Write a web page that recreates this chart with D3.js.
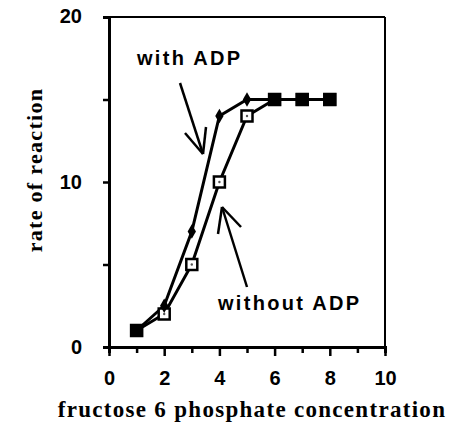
<!DOCTYPE html>
<html><head><meta charset="utf-8">
<script src="https://cdn.jsdelivr.net/npm/d3@7"></script>
<style>body{margin:0;background:#fff}svg{display:block}</style>
</head><body>
<script>
const concentration = [1, 2, 3, 4, 5, 6, 7, 8];
const withADP = [1, 2.5, 7, 14, 15, 15, 15, 15];
const withoutADP = [1, 2, 5, 10, 14, 15, 15, 15];
const xTickLabels = [0, 2, 4, 6, 8, 10];
const yTickLabels = [0, 10, 20];

const W = 452, H = 439;
const svg = d3.select("body").append("svg").attr("width", W).attr("height", H);
const x = d3.scaleLinear().domain([0, 10]).range([109, 385]);
const y = d3.scaleLinear().domain([0, 20]).range([347, 17]);

// frame top/right
svg.append("line").attr("x1", x(0)).attr("x2", x(10)).attr("y1", y(20)).attr("y2", y(20)).attr("stroke", "#000").attr("stroke-width", 2);
svg.append("line").attr("x1", x(10)).attr("x2", x(10)).attr("y1", y(20)).attr("y2", y(0)).attr("stroke", "#000").attr("stroke-width", 2);

// y axis
const yAxis = svg.append("g").attr("transform", `translate(${x(0)},0)`)
  .call(d3.axisLeft(y).tickValues(d3.range(0, 21, 5)).tickSize(6).tickFormat(d => yTickLabels.includes(d) ? d : ""));
// x axis
const xAxis = svg.append("g").attr("transform", `translate(0,${y(0)})`)
  .call(d3.axisBottom(x).tickValues(d3.range(0, 11, 1)).tickSize(6).tickFormat(d => xTickLabels.includes(d) ? d : ""));
[yAxis, xAxis].forEach(g => {
  g.select(".domain").attr("stroke", "#000").attr("stroke-width", 3);
  g.selectAll(".tick line").attr("stroke", "#000").attr("stroke-width", 2.5);
  g.selectAll("text").attr("fill", "#000").style("font-family", "Liberation Sans, Arial, sans-serif").style("font-weight", "bold").style("font-size", "20px");
});
xAxis.selectAll(".tick line").attr("y2", d => d % 2 === 0 ? 9 : 6);
xAxis.selectAll("text").attr("y", 24);
yAxis.selectAll("text").attr("x", -27);
yAxis.selectAll(".tick").filter(d => d === 20).select("text").attr("dy", "0.25em");

const line = d3.line().x((d, i) => x(concentration[i])).y(d => y(d));
svg.append("path").datum(withoutADP).attr("d", line).attr("fill", "none").attr("stroke", "#000").attr("stroke-width", 3);
svg.append("path").datum(withADP).attr("d", line).attr("fill", "none").attr("stroke", "#000").attr("stroke-width", 3);

// without ADP markers: open squares
svg.selectAll(".open").data(withoutADP).enter().append("rect")
  .attr("x", (d, i) => x(concentration[i]) - 5.5).attr("y", d => y(d) - 5.5)
  .attr("width", 11).attr("height", 11).attr("fill", "#fff").attr("stroke", "#000").attr("stroke-width", 2.5);
svg.selectAll(".dot").data(withoutADP).enter().append("circle")
  .attr("cx", (d, i) => x(concentration[i])).attr("cy", d => y(d)).attr("r", 1.2).attr("fill", "#555");
// with ADP markers
svg.selectAll(".filled").data(withADP).enter().append("path")
  .attr("transform", (d, i) => `translate(${x(concentration[i])},${y(d)})`)
  .attr("d", (d, i) => d === withoutADP[i]
      ? d3.symbol(d3.symbolSquare, 169)()
      : d3.symbol(d3.symbolDiamond, 60)())
  .attr("fill", "#000");

// annotations
const t1 = svg.append("text").attr("x", 137).attr("y", 65).text("with ADP");
const t2 = svg.append("text").attr("x", 218).attr("y", 310).text("without ADP");
[t1, t2].forEach(t => t.style("font-family", "Liberation Sans, Arial, sans-serif")
  .style("font-weight", "bold").style("font-size", "20px").style("letter-spacing", "2.3px"));

function arrow(x1, y1, x2, y2, a1, a2) {
  const g = svg.append("g").attr("stroke", "#000").attr("stroke-width", 2.5).attr("fill", "none");
  g.append("line").attr("x1", x1).attr("y1", y1).attr("x2", x2).attr("y2", y2);
  g.append("line").attr("x1", a1[0]).attr("y1", a1[1]).attr("x2", x2).attr("y2", y2);
  g.append("line").attr("x1", a2[0]).attr("y1", a2[1]).attr("x2", x2).attr("y2", y2);
}
arrow(180, 83, 203, 154, [185, 133], [206, 127]);
arrow(247, 287, 222, 207, [241, 227], [218, 234]);

// axis titles
svg.append("text").attr("transform", "translate(42,170) rotate(-90)").attr("text-anchor", "middle")
  .style("font-family", "Liberation Serif, serif").style("font-weight", "bold").style("font-size", "22px")
  .style("letter-spacing", "1.3px").text("rate of reaction");
svg.append("text").attr("x", 252).attr("y", 417).attr("text-anchor", "middle")
  .style("font-family", "Liberation Serif, serif").style("font-weight", "bold").style("font-size", "23px")
  .style("letter-spacing", "1.3px").text("fructose 6 phosphate concentration");
</script>
</body></html>
